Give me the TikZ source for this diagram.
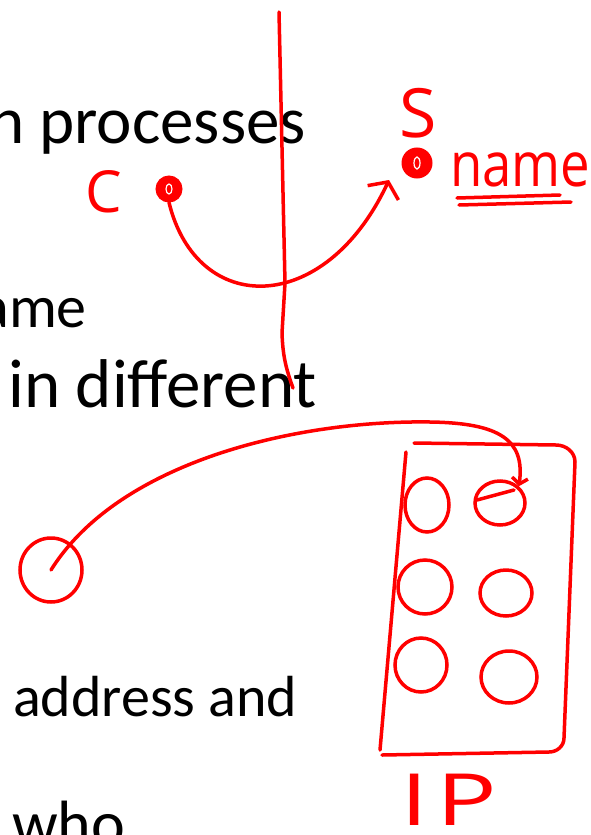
\documentclass[tikz,border=0pt]{standalone}
\usepackage{fontspec}
\setmainfont{Carlito}
\newfontfamily\hand{Open Sans}
\usetikzlibrary{shapes.geometric,arrows.meta}

\begin{document}
\begin{tikzpicture}[x=1pt,y=-1pt,
  pen/.style={red,line width=3.5pt,line cap=round,line join=round},
  dot/.style={circle,fill=red,draw=red,line width=2pt,inner sep=0pt},
  hole/.style={ellipse,draw=red,line width=3.5pt,inner sep=0pt},
  slide/.style={inner sep=0pt,text=black},
  ink/.style={inner sep=0pt,text=red}]
\useasboundingbox (0,0) rectangle (590,835);
\clip (0,0) rectangle (590,835);
\node[slide,anchor=base east,font=\fontsize{67}{70}\selectfont] (proc) at (306,143) {n processes};
\node[slide,anchor=base east,font=\fontsize{60}{64}\selectfont] (same) at (87,327) {ame};
\node[slide,anchor=base west,font=\fontsize{69}{72}\selectfont] (diff) at (8,407) {in different};
\node[slide,anchor=base west,font=\fontsize{58}{60}\selectfont] (addr) at (13,716) {address and};
\node[slide,anchor=base west,font=\fontsize{64}{66}\selectfont] (who) at (12,845) {who};
\draw[pen] (279,12) -- (285,283) -- (282,333) to[out=-88,in=110] (293,388);
\node[ink,font=\hand\fontsize{58}{58}\selectfont] (clab) at (104,192) {C};
\node[ink,font=\hand\fontsize{68}{68}\selectfont] (slab) at (418,113) {S};
\node[ink,anchor=base west,font=\hand\fontsize{62}{62}\selectfont] (nm) at (450,186) {\scalebox{0.85}[1]{name}};
\draw[pen] (457,198) -- (560,195);
\draw[pen] (459,205) -- (571,202);
\node[dot,minimum size=25] (cdot) at (169,189) {};
\node[dot,minimum size=29] (sdot) at (417,163) {};
\draw[white,line width=1.2pt] (cdot) ellipse (3 and 5);
\draw[white,line width=1.2pt] (sdot) ellipse (3 and 6);
\coordinate (stip) at (389,180);
\draw[pen,-{Straight Barb[length=12pt,width=34pt]}] (cdot.south) .. controls (197,317) and (325,317) .. (stip);
\node[hole,minimum width=62,minimum height=64] (lhost) at (51,570) {};
\draw[pen] (414,443) -- (556,445) to[out=0,in=90] (575,462) -- (564,738) to[out=-90,in=0] (549,752) -- (382,755);
\draw[pen] (406,452) -- (380,750);
\foreach \n/\x/\y/\w/\h in {0/427/505/44/54,1/500/503/50/44,2/425/587/54/54,3/506/593/52/46,4/421/665/52/54,5/509/677/56/52} {
  \node[hole,minimum width=\w,minimum height=\h] (h\n) at (\x,\y) {};
}
\draw[pen] (477,500) -- (514,490);
\draw[pen,-{Straight Barb[length=6pt,width=16pt]}] (lhost.center) .. controls (120,460) and (300,420) .. (430,422) .. controls (500,423) and (525,440) .. (h1.north east);
\node[ink,font=\hand\fontsize{72}{72}\selectfont] (iplab) at (449,800) {\scalebox{1.4}[1]{I\kern6pt P}};
\end{tikzpicture}
\end{document}
